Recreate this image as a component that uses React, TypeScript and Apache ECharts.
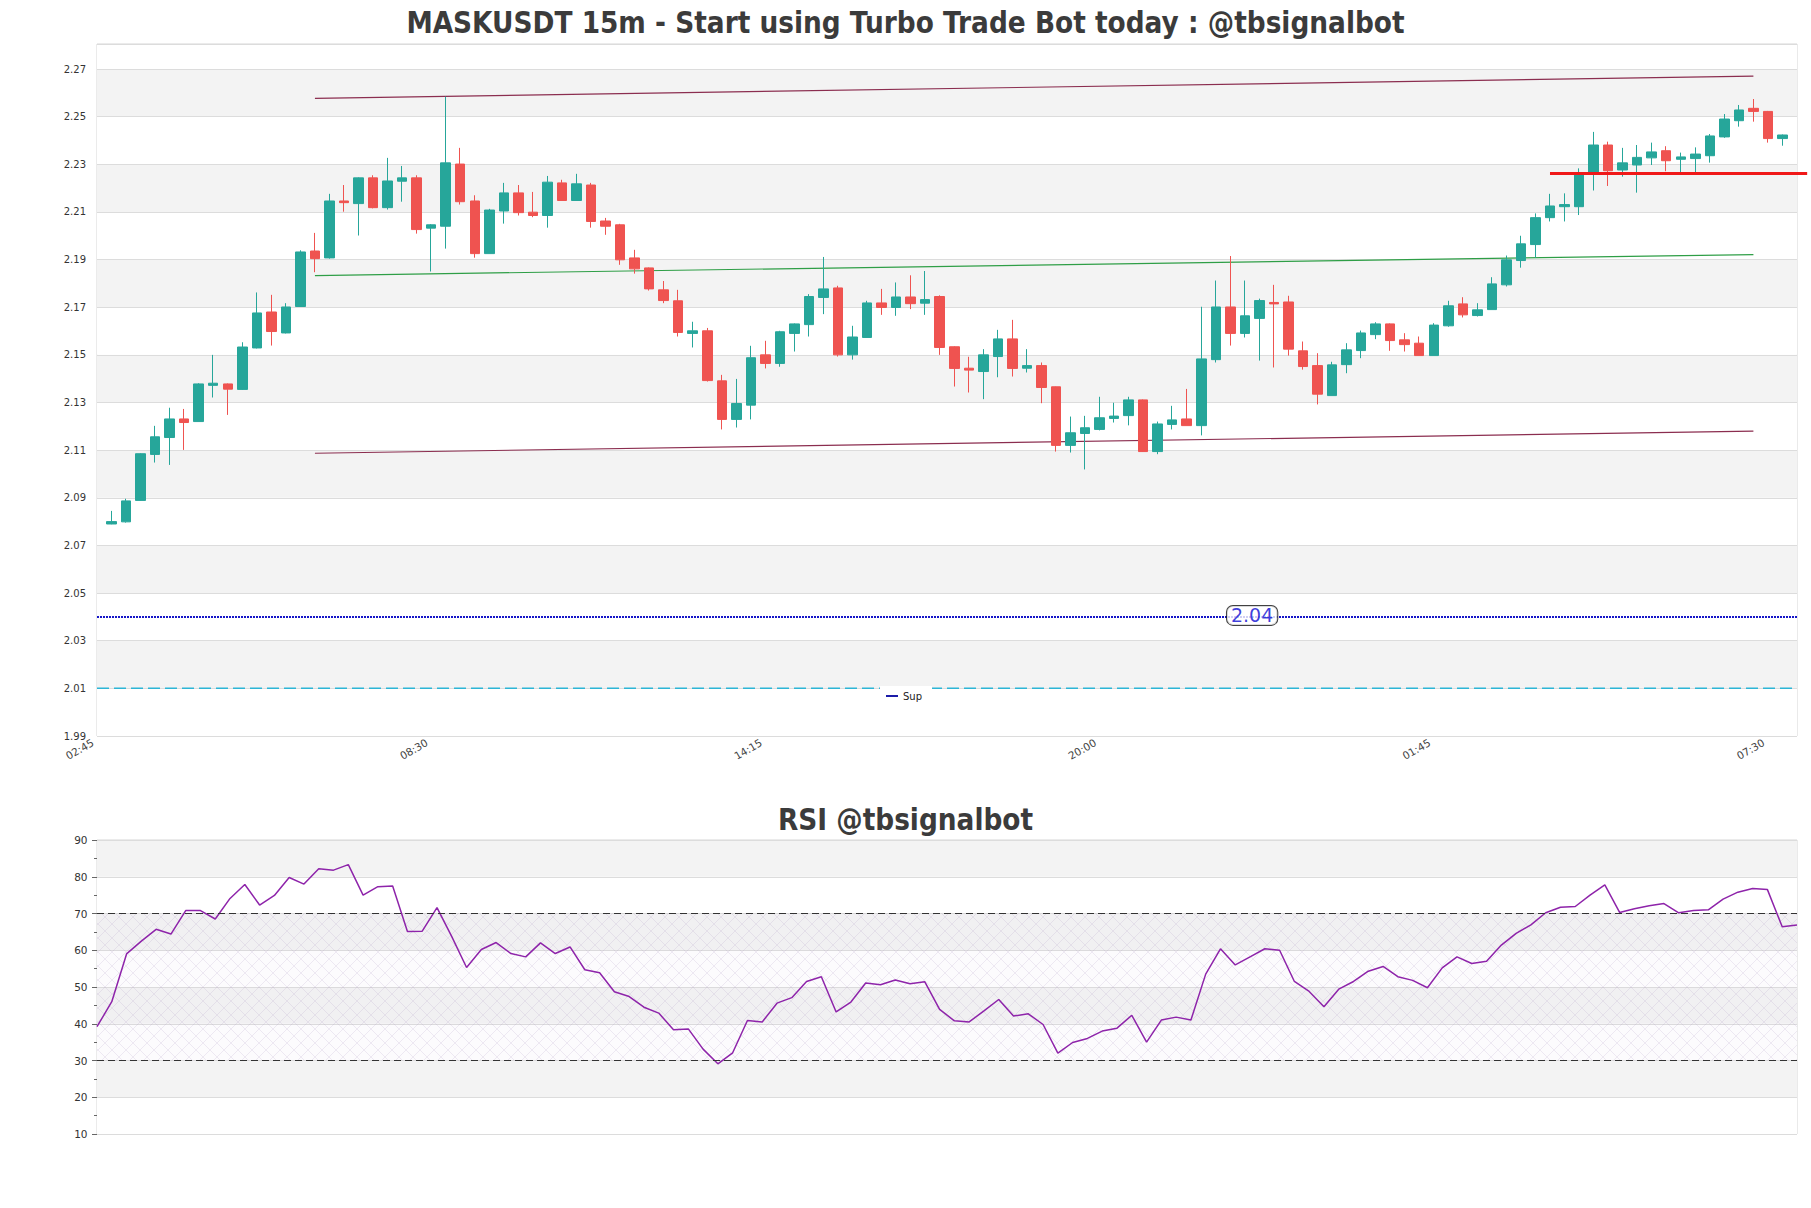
import React, { useEffect, useRef } from 'react';
import * as echarts from 'echarts';

const FONT = 'DejaVu Sans';
const mainTitle = 'MASKUSDT 15m - Start using Turbo Trade Bot today : @tbsignalbot';
const rsiTitle = 'RSI @tbsignalbot';

// x tick labels every 23 candles (15m), first tick one slot before the first candle
const xTickLabels = ['02:45', '08:30', '14:15', '20:00', '01:45', '07:30'];
const xTickStep = 23;

const opens = [
  2.0790, 2.0799, 2.0889, 2.1082, 2.1153, 2.1231, 2.1220, 2.1372, 2.1378, 2.1355,
  2.1529, 2.1680, 2.1592, 2.1703, 2.1936, 2.1907, 2.2146, 2.2135, 2.2243, 2.2118,
  2.2229, 2.2243, 2.2032, 2.2040, 2.2301, 2.2146, 2.1925, 2.2104, 2.2180, 2.2099,
  2.2085, 2.2222, 2.2148, 2.2213, 2.2062, 2.2046, 2.1907, 2.1865, 2.1773, 2.1727,
  2.1590, 2.1601, 2.1391, 2.1229, 2.1289, 2.1500, 2.1464, 2.1590, 2.1627, 2.1741,
  2.1781, 2.1500, 2.1573, 2.1718, 2.1699, 2.1743, 2.1717, 2.1745, 2.1534, 2.1444,
  2.1430, 2.1493, 2.1567, 2.1444, 2.1455, 2.1366, 2.1120, 2.1170, 2.1187, 2.1233,
  2.1245, 2.1311, 2.1094, 2.1208, 2.1231, 2.1203, 2.1480, 2.1701, 2.1590, 2.1653,
  2.1720, 2.1722, 2.1517, 2.1455, 2.1329, 2.1459, 2.1518, 2.1585, 2.1630, 2.1563,
  2.1549, 2.1497, 2.1622, 2.1714, 2.1665, 2.1690, 2.1794, 2.1896, 2.1963, 2.2076,
  2.2122, 2.2122, 2.2260, 2.2381, 2.2276, 2.2297, 2.2327, 2.2357, 2.2321, 2.2324,
  2.2336, 2.2415, 2.2483, 2.2535, 2.2522, 2.2408,
];
const highs = [
  2.0845, 2.0896, 2.1087, 2.1202, 2.1278, 2.1273, 2.1381, 2.1500, 2.1380, 2.1553,
  2.1762, 2.1752, 2.1717, 2.1939, 2.2012, 2.2176, 2.2213, 2.2245, 2.2254, 2.2327,
  2.2293, 2.2254, 2.2049, 2.2584, 2.2369, 2.2170, 2.2113, 2.2222, 2.2213, 2.2184,
  2.2251, 2.2235, 2.2260, 2.2222, 2.2075, 2.2050, 2.1941, 2.1867, 2.1810, 2.1773,
  2.1639, 2.1613, 2.1416, 2.1399, 2.1538, 2.1559, 2.1601, 2.1632, 2.1755, 2.1911,
  2.1790, 2.1622, 2.1727, 2.1777, 2.1804, 2.1834, 2.1852, 2.1750, 2.1536, 2.1492,
  2.1524, 2.1605, 2.1647, 2.1524, 2.1468, 2.1367, 2.1241, 2.1244, 2.1324, 2.1299,
  2.1324, 2.1313, 2.1220, 2.1286, 2.1357, 2.1702, 2.1812, 2.1915, 2.1812, 2.1736,
  2.1794, 2.1748, 2.1556, 2.1507, 2.1471, 2.1549, 2.1602, 2.1637, 2.1632, 2.1591,
  2.1577, 2.1633, 2.1727, 2.1742, 2.1717, 2.1826, 2.1917, 2.2000, 2.2094, 2.2176,
  2.2178, 2.2283, 2.2436, 2.2395, 2.2369, 2.2381, 2.2391, 2.2376, 2.2349, 2.2371,
  2.2427, 2.2511, 2.2549, 2.2574, 2.2524, 2.2425,
];
const lows = [
  2.0789, 2.0796, 2.0888, 2.1048, 2.1038, 2.1101, 2.1220, 2.1321, 2.1248, 2.1353,
  2.1527, 2.1539, 2.1590, 2.1703, 2.1847, 2.1904, 2.2101, 2.2001, 2.2115, 2.2110,
  2.2143, 2.2009, 2.1850, 2.1946, 2.2131, 2.1908, 2.1925, 2.2051, 2.2085, 2.2078,
  2.2034, 2.2148, 2.2148, 2.2034, 2.2004, 2.1878, 2.1841, 2.1770, 2.1717, 2.1577,
  2.1531, 2.1388, 2.1187, 2.1195, 2.1229, 2.1443, 2.1450, 2.1514, 2.1577, 2.1671,
  2.1493, 2.1480, 2.1573, 2.1668, 2.1664, 2.1692, 2.1668, 2.1500, 2.1367, 2.1342,
  2.1314, 2.1406, 2.1409, 2.1426, 2.1297, 2.1094, 2.1090, 2.1019, 2.1183, 2.1216,
  2.1204, 2.1093, 2.1083, 2.1187, 2.1203, 2.1162, 2.1468, 2.1539, 2.1573, 2.1476,
  2.1447, 2.1497, 2.1438, 2.1292, 2.1329, 2.1423, 2.1486, 2.1566, 2.1517, 2.1514,
  2.1497, 2.1497, 2.1618, 2.1657, 2.1661, 2.1690, 2.1787, 2.1866, 2.1908, 2.2060,
  2.2060, 2.2087, 2.2190, 2.2209, 2.2248, 2.2181, 2.2297, 2.2271, 2.2255, 2.2262,
  2.2307, 2.2411, 2.2458, 2.2479, 2.2391, 2.2378,
];
const closes = [
  2.0800, 2.0887, 2.1085, 2.1156, 2.1231, 2.1216, 2.1378, 2.1381, 2.1356, 2.1533,
  2.1676, 2.1598, 2.1701, 2.1932, 2.1904, 2.2146, 2.2139, 2.2243, 2.2118, 2.2230,
  2.2243, 2.2026, 2.2046, 2.2306, 2.2143, 2.1925, 2.2108, 2.2180, 2.2097, 2.2085,
  2.2225, 2.2148, 2.2218, 2.2060, 2.2040, 2.1899, 2.1861, 2.1777, 2.1728, 2.1594,
  2.1601, 2.1392, 2.1229, 2.1296, 2.1488, 2.1464, 2.1597, 2.1630, 2.1745, 2.1777,
  2.1500, 2.1575, 2.1718, 2.1699, 2.1743, 2.1715, 2.1732, 2.1531, 2.1443, 2.1436,
  2.1500, 2.1567, 2.1443, 2.1455, 2.1363, 2.1120, 2.1173, 2.1194, 2.1236, 2.1243,
  2.1311, 2.1094, 2.1210, 2.1227, 2.1203, 2.1483, 2.1701, 2.1590, 2.1664, 2.1728,
  2.1714, 2.1524, 2.1451, 2.1335, 2.1458, 2.1521, 2.1592, 2.1630, 2.1560, 2.1543,
  2.1497, 2.1625, 2.1706, 2.1668, 2.1689, 2.1798, 2.1899, 2.1966, 2.2076, 2.2125,
  2.2131, 2.2262, 2.2381, 2.2273, 2.2306, 2.2329, 2.2352, 2.2315, 2.2331, 2.2343,
  2.2419, 2.2490, 2.2528, 2.2522, 2.2408, 2.2423,
];

const rsiValues = [
  39.2, 46.0, 59.0, 62.5, 65.7, 64.4, 70.8, 70.8, 68.5, 74.1,
  77.9, 72.3, 74.9, 79.8, 78.0, 82.2, 81.8, 83.3, 75.0, 77.3,
  77.5, 65.1, 65.2, 71.6, 63.7, 55.3, 60.2, 62.1, 59.1, 58.2,
  62.0, 59.1, 60.9, 54.7, 53.9, 48.7, 47.4, 44.5, 42.9, 38.4,
  38.6, 33.1, 29.1, 32.1, 40.9, 40.5, 45.6, 47.1, 51.5, 52.8,
  43.2, 45.9, 51.1, 50.6, 51.9, 50.9, 51.4, 43.9, 40.8, 40.5,
  43.5, 46.6, 42.1, 42.7, 39.8, 32.0, 34.9, 36.0, 38.0, 38.8,
  42.3, 35.0, 41.0, 41.8, 41.0, 53.5, 60.4, 56.0, 58.2, 60.4,
  60.0, 51.5, 48.8, 44.6, 49.4, 51.5, 54.3, 55.6, 52.8, 51.8,
  49.8, 55.2, 58.2, 56.4, 57.0, 61.4, 64.6, 66.9, 70.2, 71.7,
  71.9, 75.0, 77.8, 70.3, 71.3, 72.1, 72.7, 70.2, 70.8, 71.0,
  73.9, 75.8, 76.8, 76.5, 66.4, 66.9,
];

// channel / level lines, x in candle index units
const upperChannel = [[14, 2.2577], [113, 2.2670]];
const midChannel = [[14, 2.1833], [113, 2.1921]];
const lowerChannel = [[14, 2.1087], [113, 2.1180]];
const resistanceLine = [99, 2.2261, 116.7, 2.2261];
const supportLevel = 2.04;
const supportLabelAt = 78.5;
const lowerSupportLevel = 2.01;
const rsiBands = [30, 70];

function makeHatch(): HTMLCanvasElement {
  const s = 14;
  const c = document.createElement('canvas');
  c.width = s;
  c.height = s;
  const ctx = c.getContext('2d');
  if (ctx) {
    ctx.fillStyle = 'rgba(215,195,230,0.07)';
    ctx.fillRect(0, 0, s, s);
    ctx.strokeStyle = 'rgba(165,140,185,0.22)';
    ctx.lineWidth = 0.8;
    ctx.beginPath();
    ctx.moveTo(0, 0);
    ctx.lineTo(s, s);
    ctx.moveTo(s, 0);
    ctx.lineTo(0, s);
    ctx.stroke();
  }
  return c;
}

export default function App() {
  const ref = useRef<HTMLDivElement>(null);

  useEffect(() => {
    if (!ref.current) return;
    const chart = echarts.init(ref.current, null, { renderer: 'svg' });

    const shift = (pts: number[][]) => pts.map(([x, y]) => [x + 1, y]);
    const candleData = opens.map((o, i) => [i + 1, o, closes[i], lows[i], highs[i]]);
    const nSlots = opens.length + 1; // 117
    const hatch = makeHatch();

    const chanLine = (data: number[][], color: string) => ({
      type: 'line',
      xAxisIndex: 0,
      yAxisIndex: 0,
      data: shift(data),
      symbol: 'none',
      silent: true,
      z: 2,
      lineStyle: { color, width: 1.2 },
    });

    const titleText = (text: string, y: number) => ({
      type: 'text',
      x: 905.5,
      y,
      scaleX: 0.88,
      style: {
        text,
        fontSize: 30,
        fontWeight: 'bold',
        fontFamily: FONT,
        fill: '#3b3b3b',
        align: 'center',
        verticalAlign: 'middle',
      },
    });

    const option: any = {
      animation: false,
      backgroundColor: '#ffffff',
      textStyle: { fontFamily: FONT },
      graphic: [titleText(mainTitle, 23), titleText(rsiTitle, 820)],
      legend: {
        data: [{ name: 'Sup', icon: 'rect', itemStyle: { color: '#1c1ca8' } }],
        left: 880,
        top: 686,
        itemWidth: 12,
        itemHeight: 2,
        backgroundColor: '#ffffff',
        padding: [5, 10, 5, 6],
        selectedMode: false,
        textStyle: { fontSize: 10, color: '#222', fontFamily: FONT },
      },
      grid: [
        { left: 97, right: 14, top: 44, bottom: 472, show: true, borderColor: '#d6d6d6', borderWidth: 1 },
        { left: 97, right: 14, top: 840, bottom: 74, show: true, borderColor: '#d6d6d6', borderWidth: 1 },
      ],
      xAxis: [
        {
          type: 'value',
          gridIndex: 0,
          min: 0,
          max: nSlots,
          interval: xTickStep,
          axisLine: { show: false },
          axisTick: { show: false },
          splitLine: { show: false },
          axisLabel: {
            rotate: 30,
            fontSize: 10.5,
            color: '#444',
            margin: 3,
            padding: [0, 5, 0, 0],
            showMaxLabel: false,
            formatter: (v: number) => {
              const k = Math.round(v / xTickStep);
              return Math.abs(v - k * xTickStep) < 1e-6 && xTickLabels[k] ? xTickLabels[k] : '';
            },
          },
        },
        {
          type: 'value',
          gridIndex: 1,
          min: 0,
          max: rsiValues.length - 1,
          axisLine: { show: false },
          axisTick: { show: false },
          splitLine: { show: false },
          axisLabel: { show: false },
        },
      ],
      yAxis: [
        {
          type: 'value',
          gridIndex: 0,
          min: 1.99,
          max: 2.2805,
          interval: 0.02,
          axisLine: { show: false },
          axisTick: { show: false },
          axisLabel: {
            fontSize: 10,
            color: '#333',
            margin: 11,
            showMaxLabel: false,
            formatter: (v: number) => v.toFixed(2),
          },
          splitLine: { lineStyle: { color: '#dcdcdc', width: 1 } },
          splitArea: { show: true, areaStyle: { color: ['#ffffff', '#f3f3f3'] } },
        },
        {
          type: 'value',
          gridIndex: 1,
          min: 10,
          max: 90,
          interval: 10,
          axisLine: { show: false },
          axisTick: { show: true, length: 5, lineStyle: { color: '#666' } },
          minorTick: { show: true, splitNumber: 2, length: 3, lineStyle: { color: '#666' } },
          axisLabel: { fontSize: 10.5, color: '#333', margin: 9.5 },
          splitLine: { lineStyle: { color: '#dcdcdc', width: 1 } },
          splitArea: { show: true, areaStyle: { color: ['#ffffff', '#f3f3f3'] } },
        },
      ],
      series: [
        chanLine(upperChannel, '#8b2d4f'),
        chanLine(midChannel, '#2e9e46'),
        chanLine(lowerChannel, '#8b2d4f'),
        {
          type: 'line',
          name: 'Sup',
          xAxisIndex: 0,
          yAxisIndex: 0,
          data: [[0, supportLevel], [nSlots, supportLevel]],
          symbol: 'none',
          silent: true,
          z: 2,
          itemStyle: { color: '#1c1ca8' },
          lineStyle: { color: '#1515c8', width: 2, type: [2, 1] },
        },
        {
          type: 'line',
          xAxisIndex: 0,
          yAxisIndex: 0,
          data: [[0, lowerSupportLevel], [nSlots, lowerSupportLevel]],
          symbol: 'none',
          silent: true,
          z: 2,
          lineStyle: { color: '#2cb5d6', width: 1.5, type: [12, 5] },
        },
        {
          type: 'candlestick',
          xAxisIndex: 0,
          yAxisIndex: 0,
          data: candleData,
          encode: { x: 0, y: [1, 2, 3, 4] },
          barWidth: 10,
          z: 3,
          itemStyle: {
            color: '#26a69a',
            color0: '#ef5350',
            borderColor: '#26a69a',
            borderColor0: '#ef5350',
            borderWidth: 1,
          },
        },
        {
          type: 'custom',
          xAxisIndex: 0,
          yAxisIndex: 0,
          clip: false,
          silent: true,
          z: 5,
          data: [[resistanceLine[0] + 1, resistanceLine[1], resistanceLine[2] + 1, resistanceLine[3]]],
          encode: { x: [0, 2], y: [1, 3] },
          renderItem: (params: any, api: any) => {
            const p0 = api.coord([api.value(0), api.value(1)]);
            const p1 = api.coord([api.value(2), api.value(3)]);
            return {
              type: 'line',
              shape: { x1: p0[0], y1: p0[1], x2: p1[0], y2: p1[1] },
              style: { stroke: '#f01818', lineWidth: 3, fill: null },
            };
          },
        },
        {
          type: 'scatter',
          xAxisIndex: 0,
          yAxisIndex: 0,
          data: [[supportLabelAt + 1, supportLevel]],
          symbolSize: 1,
          silent: true,
          z: 6,
          itemStyle: { color: 'rgba(0,0,0,0)' },
          label: {
            show: true,
            position: 'inside',
            offset: [0, -1.5],
            formatter: supportLevel.toFixed(2),
            fontSize: 19,
            fontFamily: FONT,
            color: '#0c0cd2',
            backgroundColor: '#ffffff',
            borderColor: '#111',
            borderWidth: 1,
            borderRadius: 6,
            padding: [1, 4, 0, 4],
            lineHeight: 18,
          },
        },
        {
          type: 'line',
          xAxisIndex: 1,
          yAxisIndex: 1,
          data: rsiValues.map((v, i) => [i, v]),
          symbol: 'none',
          z: 4,
          lineStyle: { color: '#8e24aa', width: 1.5 },
          markArea: {
            silent: true,
            itemStyle: {
              color: { image: hatch, repeat: 'repeat' },
            },
            data: [[{ yAxis: rsiBands[0] }, { yAxis: rsiBands[1] }]],
          },
          markLine: {
            silent: true,
            symbol: ['none', 'none'],
            label: { show: false },
            lineStyle: { color: '#333', width: 1.2, type: [7, 4] },
            data: rsiBands.map((b) => ({ yAxis: b })),
          },
        },
      ],
    };

    chart.setOption(option);
    return () => chart.dispose();
  }, []);

  return (
    <div
      ref={ref}
      style={{ position: 'absolute', left: 0, top: 0, width: 1811, height: 1208, background: '#fff' }}
    />
  );
}
